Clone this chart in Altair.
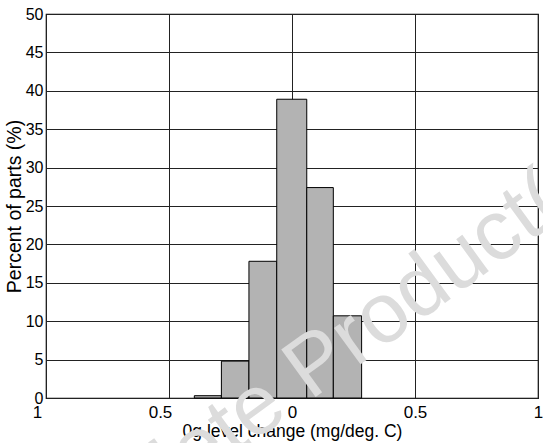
import altair as alt
import pandas as pd

# Histogram data
bin_start = [-0.397, -0.287, -0.175, -0.062, 0.060, 0.168]
bin_end = [-0.287, -0.175, -0.062, 0.060, 0.168, 0.283]
percent = [0.3, 4.8, 17.8, 38.9, 27.4, 10.7]

x_ticks = [-1, -0.5, 0, 0.5, 1]
y_ticks = [0, 5, 10, 15, 20, 25, 30, 35, 40, 45, 50]

df = pd.DataFrame({"start": bin_start, "end": bin_end, "pct": percent})

FONT = "Liberation Sans"

bars = alt.Chart(df).mark_rect(
    fill="#b3b3b3", stroke="black", strokeWidth=1
).encode(
    x=alt.X("start:Q",
            scale=alt.Scale(domain=[-1, 1], nice=False, zero=False),
            axis=alt.Axis(values=x_ticks, labelExpr="abs(datum.value)",
                          title="0g level change (mg/deg. C)",
                          grid=True, gridColor="#222222", gridOpacity=1,
                          ticks=False, domain=False, labelFlush=False,
                          labelOverlap=False, labelPadding=6,
                          labelOffset={"condition": {"test": "datum.value < 0", "value": -9}, "value": 0},
                          labelFontSize=17, titleFontSize=17.5,
                          titleFontWeight="normal", titlePadding=2,
                          labelColor="black", titleColor="black",
                          labelFont=FONT, titleFont=FONT)),
    x2="end:Q",
    y=alt.Y("pct:Q",
            scale=alt.Scale(domain=[0, 50], nice=False),
            axis=alt.Axis(values=y_ticks, title="Percent of parts (%)",
                          grid=True, gridColor="#222222", gridOpacity=1,
                          ticks=False, domain=False, labelFlush=False,
                          labelOverlap=False, labelPadding=3,
                          labelFontSize=16, titleFontSize=19.5,
                          titleFontWeight="normal", titlePadding=1,
                          labelColor="black", titleColor="black",
                          labelFont=FONT, titleFont=FONT)),
    y2=alt.datum(0),
)

wm_df = pd.DataFrame({"a": ["Obsolete"], "b": ["Product(s)"]})
wm1 = alt.Chart(wm_df).mark_text(
    angle=324, fontSize=85, font=FONT, color="#dcdcdc",
    align="left", baseline="alphabetic"
).encode(text="b:N", x=alt.value(264), y=alt.value(387))
wm2 = alt.Chart(wm_df).mark_text(
    angle=324, fontSize=85, font=FONT, color="#dcdcdc",
    align="right", baseline="alphabetic", dx=-24
).encode(text="a:N", x=alt.value(264), y=alt.value(387))

chart = alt.layer(bars, wm1, wm2).properties(
    width=492, height=384,
    autosize=alt.AutoSizeParams(type="none"),
    padding={"left": 46, "top": 14, "right": 5, "bottom": 45},
    background="white",
).configure_view(stroke="black", strokeWidth=1.2)

chart.save("out.html", embed_options={"renderer": "svg", "actions": False})
